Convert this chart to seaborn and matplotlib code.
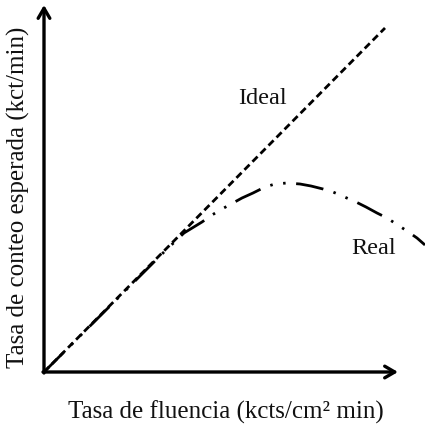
import matplotlib
matplotlib.use("Agg")
import matplotlib.pyplot as plt
import seaborn as sns
import pandas as pd

# Data (in arbitrary units)
ideal_x = [0, 341]
ideal_y = [0, 344]
real_x = [0, 60, 120, 140, 158, 168, 178, 198, 209, 221, 231, 243, 256, 267, 279, 289, 312, 322, 333, 343, 363, 373, 381]
real_y = [0, 60, 120, 139, 150, 157, 163, 174, 179, 185, 188, 189, 188, 186, 183, 180, 170, 165, 159, 154, 141, 134, 127]
x_label = "Tasa de fluencia (kcts/cm² min)"
y_label = "Tasa de conteo esperada (kct/min)"
ideal_label = "Ideal"
real_label = "Real"

sns.set_theme(style="white")
plt.rcParams["font.family"] = ["Liberation Serif", "DejaVu Serif"]

W, H = 425, 430
fig = plt.figure(figsize=(W / 100, H / 100), dpi=100)
ox, oy = 44, 372
ax = fig.add_axes([ox / W, (H - oy) / H, (W - ox) / W, oy / H])
ax.set_xlim(0, W - ox)
ax.set_ylim(0, oy)

df_ideal = pd.DataFrame({"x": ideal_x, "y": ideal_y})
df_real = pd.DataFrame({"x": real_x, "y": real_y})
sns.lineplot(data=df_ideal, x="x", y="y", ax=ax, color="black", lw=2.0,
             linestyle=(0, (2.6, 1.5)), sort=False)
sns.lineplot(data=df_real, x="x", y="y", ax=ax, color="black", lw=2.0,
             linestyle=(0, (10, 3.8, 0.9, 3.8, 0.9, 3.8)), sort=False)
for l in ax.lines:
    l.set_clip_on(False)

for s in ax.spines.values():
    s.set_visible(False)
ax.set_xticks([])
ax.set_yticks([])
ax.set_xlabel("")
ax.set_ylabel("")

# Axis arrows
arrow_props = dict(arrowstyle="->,head_length=0.6,head_width=0.35", lw=2.4, color="black",
                   shrinkA=0, shrinkB=0)
ax.annotate("", xy=(354, 0), xytext=(-1, 0), xycoords="data",
            arrowprops=arrow_props, annotation_clip=False)
ax.annotate("", xy=(0, 367), xytext=(0, -1), xycoords="data",
            arrowprops=arrow_props, annotation_clip=False)

ax.text(218, 274, ideal_label, fontsize=17.5, ha="center", va="center", color="#111111")
ax.text(330, 123, real_label, fontsize=17.5, ha="center", va="center", color="#111111")

fig.text(226 / W, 1 - 412 / H, x_label, fontsize=18, ha="center", va="center", color="#111111")
fig.text(18 / W, 1 - 197 / H, y_label, fontsize=18, ha="center", va="center", rotation=90, color="#111111")

fig.savefig("out.png", dpi=100)
